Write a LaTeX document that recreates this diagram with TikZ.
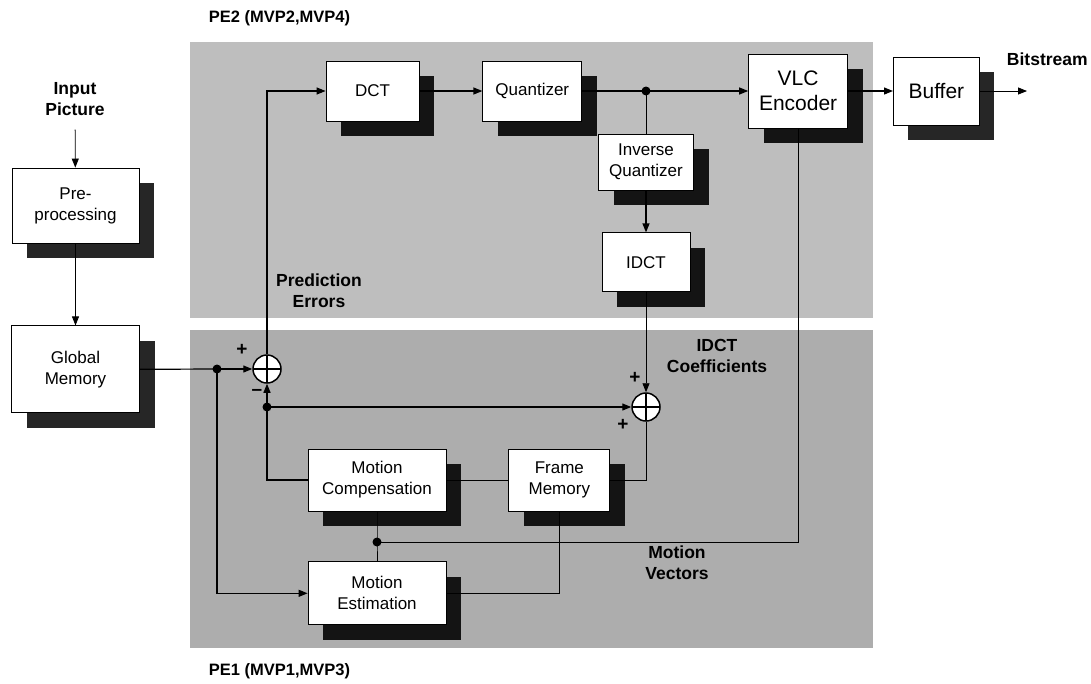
\documentclass[tikz,border=0pt]{standalone}
\usepackage{fontspec}
\setmainfont{Liberation Sans}
\usetikzlibrary{arrows.meta, positioning, shadows}
\definecolor{petop}{HTML}{BEBEBE}
\definecolor{pebot}{HTML}{ADADAD}
\definecolor{shade}{HTML}{141414}
\definecolor{shadeout}{HTML}{262626}
\newcommand{\boxfont}{\fontsize{17}{21}\selectfont}
\newcommand{\bigboxfont}{\fontsize{21}{25}\selectfont}
\newcommand{\lblfont}{\fontsize{17.5}{21}\selectfont\bfseries}
\newcommand{\pefont}{\fontsize{16.5}{19}\selectfont\bfseries}
\newcommand{\signfont}{\fontsize{19}{20}\selectfont\bfseries}

\begin{document}
\begin{tikzpicture}[x=1pt, y=-1pt, line width=1.2pt,
    >={Triangle[length=9pt,width=7pt]},
    blk/.style={draw=black, line width=0.8pt, fill=white, align=center,
      font=\boxfont, inner sep=2pt,
      drop shadow={shadow xshift=15pt, shadow yshift=-15pt, fill=#1, opacity=1}},
    blk/.default=shade,
    sumnode/.style={circle, draw, fill=white, line width=1.5pt,
      minimum size=28pt, inner sep=0pt,
      path picture={\draw[line width=1.5pt]
        (path picture bounding box.north) -- (path picture bounding box.south)
        (path picture bounding box.west) -- (path picture bounding box.east);}},
    dot/.style={circle, fill=black, minimum size=9pt, inner sep=0pt},
    lbl/.style={font=\lblfont, align=center},
    thinline/.style={line width=0.8pt}]
  \useasboundingbox (0,0) rectangle (1091,683);
  \fill[petop] (190,42) rectangle (873,318);
  \fill[pebot] (190,330) rectangle (873,648);

  \node[font=\pefont, anchor=west] (pe2) at (205,18) {PE2 (MVP2,MVP4)};
  \node[font=\pefont, anchor=west] (pe1) at (205,671) {PE1 (MVP1,MVP3)};

  \node[lbl] (inpic) at (75,99) {Input\\Picture};
  \node[blk=shadeout, minimum width=127pt, minimum height=75pt] (pre) at (75.5,205.5) {Pre-\\processing};
  \node[blk=shadeout, minimum width=128pt, minimum height=87pt, below=82pt of pre] (gm) {Global\\Memory};

  \node[blk, minimum width=93pt, minimum height=60pt] (dct) at (372.5,91) {DCT};
  \node[blk, minimum width=99pt, minimum height=60pt, right=63pt of dct] (quant) {Quantizer};
  \node[blk, font=\bigboxfont, minimum width=99pt, minimum height=74pt, right=166pt of quant] (vlc) {VLC\\Encoder};
  \node[blk=shadeout, font=\bigboxfont, minimum width=86pt, minimum height=68pt, right=45pt of vlc] (buffer) {Buffer};
  \coordinate (bout) at (1027,91);
  \node[font=\lblfont, anchor=west] (bitlbl) at (1003,59) {Bitstream};

  \node[dot] (jq) at (646,91) {};
  \node[blk, minimum width=95pt, minimum height=56pt] (iq) at (646,162) {Inverse\\Quantizer};
  \node[blk, minimum width=88pt, minimum height=59pt, below=42pt of iq] (idct) {IDCT};

  \node[sumnode] (sum1) at (267,369) {};
  \node[sumnode] (sum2) at (646,407) {};
  \node[dot] (jgm) at (217,369) {};
  \node[dot] (jfb) at (267,407) {};

  \node[blk, minimum width=138pt, minimum height=62pt] (mc) at (377,480) {Motion\\Compensation};
  \node[blk, minimum width=101pt, minimum height=62pt, right=62pt of mc] (fm) {Frame\\Memory};
  \node[blk, minimum width=138pt, minimum height=63pt, below=50pt of mc] (me) {Motion\\Estimation};
  \node[dot] (jmv) at (377,542) {};

  \node[lbl] (prederr) at (319,291) {Prediction\\Errors};
  \node[lbl] (idctco) at (717,356) {IDCT\\Coefficients};
  \node[lbl] (mvlbl) at (677,563) {Motion\\Vectors};

  \node[font=\signfont] (s1a) at (242,350) {+};
  \node[font=\signfont] (s1b) at (257,392) {–};
  \node[font=\signfont] (s2a) at (635,378) {+};
  \node[font=\signfont] (s2b) at (623,425) {+};

  \draw[->, thinline, shorten <=10pt] (inpic) -- (pre);
  \draw[->, thinline] (pre) -- (gm);
  \draw (gm.east) -- (jgm.center);
  \draw[->] (jgm.center) -- (sum1.west);
  \draw[->] (sum1.north) |- (dct.west);
  \draw[->] (dct) -- (quant);
  \draw (quant) -- (jq.center);
  \draw[->] (jq.center) -- (vlc);
  \draw[->] (vlc) -- (buffer);
  \draw[->, thinline] (buffer) -- (bout);
  \draw[thinline] (jq.center) -- (iq.north);
  \draw[->] (iq) -- (idct);
  \draw[->, thinline] (idct.south) -- (sum2.north);
  \draw[->] (jfb.center) -- (sum1.south);
  \draw[->] (jfb.center) -- (sum2.west);
  \draw (jfb.center) |- (mc.west);
  \draw[thinline] (mc) -- (fm);
  \draw[thinline] (fm.east) -| (sum2.south);
  \draw[thinline] (fm.south) |- (me.east);
  \draw[->] (jgm.center) |- (me.west);
  \draw[thinline] (mc.south) -- (jmv.center) -- (me.north);
  \draw[thinline] (vlc.south) |- (jmv.center);
\end{tikzpicture}
\end{document}
